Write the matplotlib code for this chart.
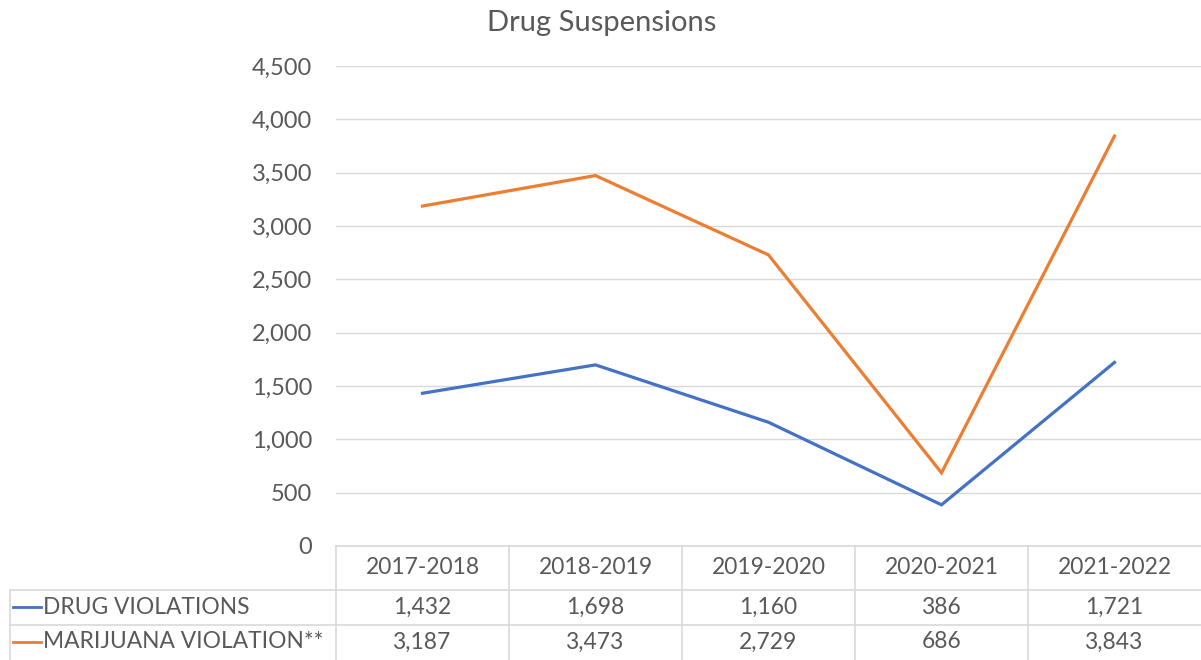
import matplotlib.pyplot as plt
from matplotlib.lines import Line2D
from matplotlib import transforms

plt.rcParams['font.family'] = ['Lato', 'DejaVu Sans']

years = ["2017-2018", "2018-2019", "2019-2020", "2020-2021", "2021-2022"]
drug = [1432, 1698, 1160, 386, 1721]
marijuana = [3187, 3473, 2729, 686, 3843]
series_names = ["DRUG VIOLATIONS", "MARIJUANA VIOLATION**"]
series_colors = ["#4472C4", "#ED7D31"]
yticks = [0, 500, 1000, 1500, 2000, 2500, 3000, 3500, 4000, 4500]

W, H = 1201, 660
text_col = "#595959"
grid_col = "#d9d9d9"

fig = plt.figure(figsize=(W / 100, H / 100), dpi=100)


def fx(px):
    return px / W


def fy(py):
    return 1 - py / H


ax = fig.add_axes([fx(336), fy(546), fx(1201) - fx(336), fy(66) - fy(546)])
x = list(range(len(years)))
for vals, col in zip([drug, marijuana], series_colors):
    ax.plot(x, vals, color=col, lw=2.3, solid_joinstyle='miter')

ax.set_xlim(-0.5, len(years) - 0.5)
ax.set_ylim(0, 4500)
ax.set_yticks(yticks)
ax.set_yticklabels([f"{v:,}" for v in yticks])
ax.tick_params(axis='y', length=0, pad=17, labelsize=17, labelcolor=text_col)
ax.set_xticks([])
for s in ax.spines.values():
    s.set_visible(False)
ax.grid(axis='y', color=grid_col, lw=1)
ax.set_axisbelow(True)

fig.text(fx(602), fy(23), "Drug Suspensions", ha='center', va='center',
         fontsize=21, color=text_col)

# data table below the plot
bt = transforms.blended_transform_factory(ax.transData, fig.transFigure)
row_y = [568, 607, 642]
fs = 16.4
for i, yr in enumerate(years):
    fig.text(i, fy(row_y[0]), yr, transform=bt, ha='center', va='center',
             fontsize=fs, color=text_col)
    fig.text(i, fy(row_y[1]), f"{drug[i]:,}", transform=bt, ha='center',
             va='center', fontsize=fs, color=text_col)
    fig.text(i, fy(row_y[2]), f"{marijuana[i]:,}", transform=bt, ha='center',
             va='center', fontsize=fs, color=text_col)

for name, col, ry in zip(series_names, series_colors, row_y[1:]):
    fig.add_artist(Line2D([fx(13), fx(41)], [fy(ry), fy(ry)], color=col, lw=2))
    fig.text(fx(43), fy(ry), name, ha='left', va='center', fontsize=fs,
             color=text_col)

# table grid lines
fig.add_artist(Line2D([fx(336), 1], [fy(546), fy(546)], color=grid_col, lw=1.2))
for hy in (590, 625):
    fig.add_artist(Line2D([fx(10), 1], [fy(hy), fy(hy)], color=grid_col, lw=1.2))
fig.add_artist(Line2D([fx(10), fx(10)], [fy(590), 0], color=grid_col, lw=1.2))
for i in range(len(years)):
    fig.add_artist(Line2D([i - 0.5, i - 0.5], [fy(546), 0], transform=bt,
                          color=grid_col, lw=1.2))

fig.savefig("out.png", dpi=100)
